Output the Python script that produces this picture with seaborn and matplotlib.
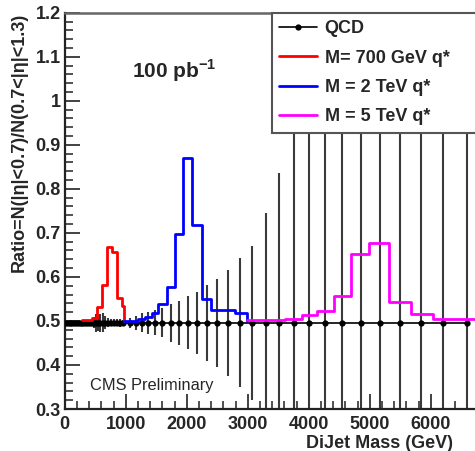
import matplotlib
matplotlib.use("Agg")
import matplotlib.pyplot as plt
from matplotlib.lines import Line2D
from matplotlib.ticker import MultipleLocator, FixedLocator, FixedFormatter
import seaborn as sns

# ---------------- data ----------------
qcd_mass = [20, 50, 80, 110, 140, 170, 200, 230, 260, 290, 320, 350, 380, 410, 440,
            475, 513, 546, 584, 623, 666, 712, 760, 810, 860, 910, 961, 1070, 1164,
            1262, 1371, 1480, 1600, 1738, 1879, 2026, 2174, 2333, 2497, 2677, 2874,
            3076, 3295, 3513, 3759, 4010, 4267, 4541, 4852, 5169, 5497, 5841, 6207, 6590]
qcd_ratio = [0.496, 0.496, 0.496, 0.496, 0.496, 0.496, 0.496, 0.496, 0.496, 0.496,
             0.496, 0.496, 0.496, 0.496, 0.496, 0.496, 0.496, 0.496, 0.496, 0.496,
             0.496, 0.496, 0.496, 0.496, 0.496, 0.496, 0.496, 0.496, 0.496, 0.496,
             0.496, 0.496, 0.496, 0.496, 0.496, 0.496, 0.496, 0.496, 0.496, 0.496,
             0.496, 0.496, 0.496, 0.496, 0.496, 0.496, 0.496, 0.496, 0.496, 0.496,
             0.496, 0.496, 0.496, 0.496]
qcd_err = [0.003, 0.003, 0.003, 0.003, 0.003, 0.003, 0.003, 0.003, 0.003, 0.003,
           0.003, 0.003, 0.003, 0.003, 0.004, 0.012, 0.020, 0.018, 0.020, 0.022,
           0.015, 0.010, 0.008, 0.008, 0.008, 0.009, 0.006, 0.011, 0.016, 0.021,
           0.025, 0.028, 0.033, 0.043, 0.050, 0.060, 0.070, 0.086, 0.100, 0.120,
           0.147, 0.175, 0.250, 0.340, 0.900, 1.200, 1.200, 1.200, 1.200, 1.200,
           1.200, 1.200, 1.200, 1.200]

red_edges = [278, 442, 524, 606, 688, 770, 852, 934, 980]
red_vals = [0.502, 0.507, 0.532, 0.581, 0.668, 0.657, 0.553, 0.533]

blue_edges = [980, 1207, 1316, 1426, 1534, 1672, 1808, 1944, 2092, 2246, 2398, 2792, 2984]
blue_vals = [0.500, 0.505, 0.510, 0.519, 0.538, 0.578, 0.698, 0.871, 0.718, 0.549, 0.524, 0.519]

mag_edges = [2984, 3311, 3611, 3885, 4141, 4415, 4693, 4993, 5321, 5677, 6032, 6726]
mag_vals = [0.501, 0.503, 0.505, 0.513, 0.522, 0.557, 0.651, 0.678, 0.543, 0.515, 0.504]

legend_labels = ["QCD", "M= 700 GeV q*", "M = 2 TeV q*", "M = 5 TeV q*"]
x_ticks = [0, 1000, 2000, 3000, 4000, 5000, 6000]
y_ticks = [0.3, 0.4, 0.5, 0.6, 0.7, 0.8, 0.9, 1.0, 1.1, 1.2]
y_ticklabels = ["0.3", "0.4", "0.5", "0.6", "0.7", "0.8", "0.9", "1", "1.1", "1.2"]

# ---------------- style ----------------
sns.set_style("ticks")
plt.rcParams["font.family"] = ["Liberation Sans", "DejaVu Sans"]
plt.rcParams["mathtext.fontset"] = "custom"
plt.rcParams["mathtext.rm"] = "Liberation Sans"
plt.rcParams["mathtext.bf"] = "Liberation Sans:bold"

fig = plt.figure(figsize=(4.75, 4.51), dpi=100)
ax = fig.add_axes([64.7 / 475, 42 / 451, 410.3 / 475, 396.3 / 451])

# QCD error bars
ax.vlines(qcd_mass, [r - e for r, e in zip(qcd_ratio, qcd_err)],
          [r + e for r, e in zip(qcd_ratio, qcd_err)], color="#3a3a3a", lw=1.5, zorder=2)
sns.lineplot(x=qcd_mass, y=qcd_ratio, color="black", lw=1.2, marker="o", markersize=4.5,
             markeredgewidth=0, estimator=None, sort=False, ax=ax, zorder=3)

# signal histograms
sns.lineplot(x=red_edges, y=red_vals + [0.499], drawstyle="steps-post", color="#ff0000",
             lw=2, estimator=None, sort=False, ax=ax, zorder=4)
sns.lineplot(x=blue_edges, y=blue_vals + [0.500], drawstyle="steps-post", color="#0000ff",
             lw=2, estimator=None, sort=False, ax=ax, zorder=4)
sns.lineplot(x=mag_edges, y=mag_vals + [mag_vals[-1]], drawstyle="steps-post", color="#ff00ff",
             lw=2, estimator=None, sort=False, ax=ax, zorder=4)

ax.set_xlim(0, 6726)
ax.set_ylim(0.3, 1.2)

ax.xaxis.set_major_locator(FixedLocator(x_ticks))
ax.xaxis.set_minor_locator(MultipleLocator(200))
ax.yaxis.set_major_locator(FixedLocator(y_ticks))
ax.yaxis.set_major_formatter(FixedFormatter(y_ticklabels))
ax.yaxis.set_minor_locator(MultipleLocator(0.02))

ax.tick_params(which="major", direction="in", length=11, width=1.3, color="#333333",
               labelsize=13, pad=3)
ax.tick_params(which="minor", direction="in", length=5.5, width=1.2, color="#333333")
ax.tick_params(axis="x", which="major", pad=5)
for lab in ax.get_xticklabels() + ax.get_yticklabels():
    lab.set_fontweight("bold")

for s in ["left", "bottom"]:
    ax.spines[s].set_linewidth(1.6)
    ax.spines[s].set_color("#222222")
ax.spines["top"].set_linewidth(1.8)
ax.spines["top"].set_color("#666666")
ax.spines["right"].set_visible(False)

ax.set_ylabel("")
ax.set_xlabel("DiJet Mass (GeV)", fontsize=13, fontweight="bold", ha="right")
ax.xaxis.set_label_coords(0.946, -0.065)

fig.text(19 / 475, 1 - 142 / 451, "Ratio=N(|η|<0.7)/N(0.7<|η|<1.3)", rotation=90,
         ha="center", va="center", fontsize=13, fontweight="bold")

ax.text(0.164, 0.835, r"100 pb$^{\mathbf{-1}}$", transform=ax.transAxes, fontsize=15,
        fontweight="bold", va="baseline", ha="left")
ax.text(0.062, 0.048, "CMS Preliminary", transform=ax.transAxes, fontsize=11.8,
        va="baseline", ha="left")

handles = [
    Line2D([], [], color="black", lw=1.2, marker="o", markersize=4.5, markeredgewidth=0),
    Line2D([], [], color="#ff0000", lw=2),
    Line2D([], [], color="#0000ff", lw=2),
    Line2D([], [], color="#ff00ff", lw=2),
]
leg = ax.legend(handles, legend_labels, loc="upper left", bbox_to_anchor=(0.505, 0.70, 0.6, 0.30),
                mode="expand", borderaxespad=0, fancybox=False, framealpha=1,
                edgecolor="#555555", prop={"size": 13, "weight": "bold"},
                handlelength=2.1, handletextpad=0.4, labelspacing=0.68, borderpad=0.42)
leg.get_frame().set_linewidth(1.5)

fig.savefig("out.png", dpi=100)
